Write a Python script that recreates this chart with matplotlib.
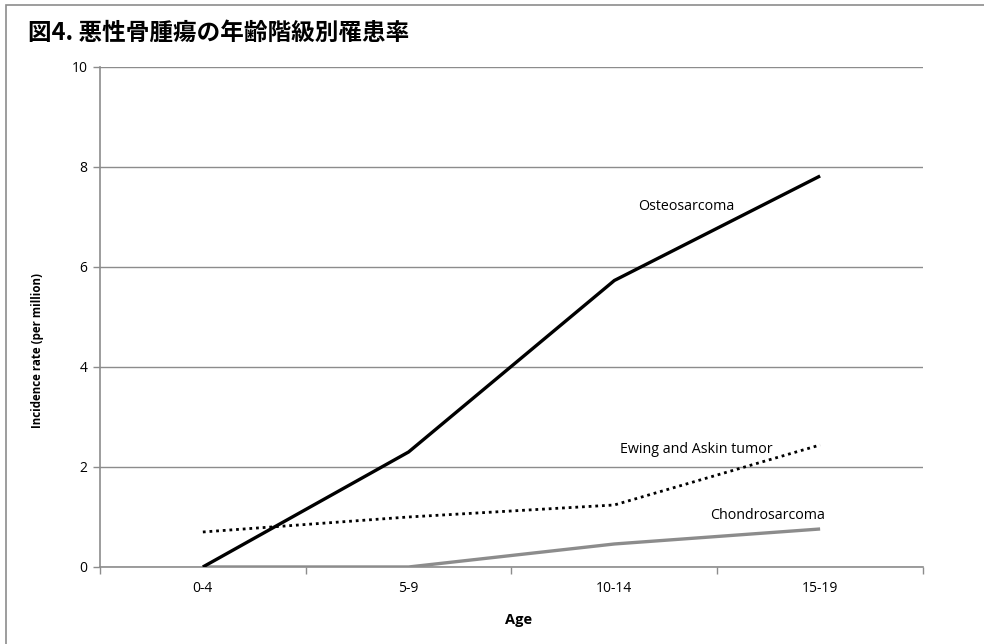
import matplotlib
matplotlib.use("Agg")
import matplotlib.pyplot as plt
from matplotlib.patches import Rectangle

plt.rcParams['font.family'] = ['Open Sans', 'Noto Sans CJK JP', 'DejaVu Sans']

age_groups = ["0-4", "5-9", "10-14", "15-19"]
osteosarcoma = [0.0, 2.30, 5.73, 7.82]
ewing_askin = [0.70, 1.00, 1.24, 2.44]
chondrosarcoma = [0.0, 0.0, 0.46, 0.76]
y_ticks = [0, 2, 4, 6, 8, 10]

fig = plt.figure(figsize=(9.84, 6.44), dpi=100)
ax = fig.add_axes([0.1016, 0.1196, 0.8364, 0.7764])

# outer chart frame
fig.patches.append(Rectangle((6 / 984, -0.1), 1.2, (644 - 5) / 644 + 0.1,
                             transform=fig.transFigure, fill=False,
                             edgecolor="#8c8c8c", linewidth=1.2))

x = list(range(len(age_groups)))
ax.plot(x, chondrosarcoma, color="#8c8c8c", linewidth=2.4, solid_capstyle="butt", zorder=3)
ax.plot(x, ewing_askin, color="black", linewidth=2.0, linestyle=(0, (1, 1.4)), zorder=4)
ax.plot(x, osteosarcoma, color="black", linewidth=2.4, solid_capstyle="butt", zorder=5)

ax.set_xlim(-0.5, 3.5)
ax.set_ylim(0, 10)
ax.set_yticks(y_ticks)
ax.set_xticks(x)
ax.set_xticklabels(age_groups)
ax.set_xticks([-0.5, 0.5, 1.5, 2.5, 3.5], minor=True)
ax.tick_params(axis="x", which="major", length=0, pad=10, labelsize=10)
ax.tick_params(axis="x", which="minor", length=5, color="#8c8c8c", width=1)
ax.tick_params(axis="y", length=5, color="#8c8c8c", width=1, labelsize=10, pad=4)

ax.grid(axis="y", color="#8c8c8c", linewidth=1.0)
ax.set_axisbelow(True)
for side in ["top", "right"]:
    ax.spines[side].set_visible(False)
for side in ["left", "bottom"]:
    ax.spines[side].set_color("#8c8c8c")
    ax.spines[side].set_linewidth(1.2)

ax.set_xlabel("Age", fontsize=10.5, fontweight="bold")
ax.xaxis.set_label_coords(0.509, -0.092)
ax.set_ylabel("Incidence rate (per million)", fontsize=8.3, fontweight="bold")
ax.yaxis.set_label_coords(-0.068, 0.432)

ax.text(2.348, 7.20, "Osteosarcoma", fontsize=10.3, ha="center", va="center")
ax.text(2.40, 2.34, "Ewing and Askin tumor", fontsize=10.3, ha="center", va="center")
ax.text(2.747, 1.02, "Chondrosarcoma", fontsize=10.3, ha="center", va="center")

fig.text(28 / 984, 1 - 33 / 644, "図4. 悪性骨腫瘍の年齢階級別罹患率",
         fontsize=17, fontweight="bold", ha="left", va="center",
         family=['Noto Sans CJK JP', 'DejaVu Sans'])

fig.savefig("out.png", dpi=100)
